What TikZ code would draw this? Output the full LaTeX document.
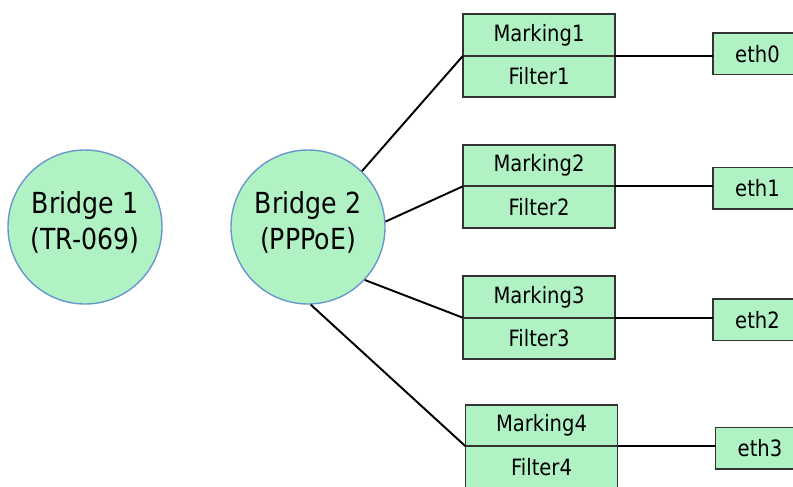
\documentclass[tikz,border=0pt]{standalone}
\usepackage{fontspec}
\setmainfont{DejaVu Sans}[FakeStretch=0.87]
\usetikzlibrary{positioning}
\usetikzlibrary{calc}
\definecolor{mint}{RGB}{176,242,196}
\definecolor{rim}{RGB}{105,150,205}
\tikzset{
    bridge/.style={
    circle,
    fill=mint,
    draw=rim,
    line width=0.8pt,
    minimum size=3.08cm,
    inner sep=0pt
    },
    tag/.style={
    align=center,
    yshift=0.1cm,
    font=\fontsize{16.5}{20.5}\selectfont
    },
    half/.style={
    rectangle,
    fill=mint,
    draw=black!80,
    line width=1.1pt,
    minimum width=3.04cm,
    minimum height=0.83cm,
    inner sep=0pt,
    outer sep=0pt,
    font=\fontsize{12.8}{14}\selectfont
    },
    port/.style={
    half,
    minimum width=1.78cm,
    minimum height=0.83cm,
    anchor=west
    },
    wire/.style={
    line width=1.1pt
    }
}
\begin{document}
\begin{tikzpicture}
\useasboundingbox (0,0) rectangle (15.86,-9.72);

\node [bridge](br1) at (1.7,-4.54) {};
\node [tag](br1t) at (br1) {Bridge 1\\(TR-069)};
\node [bridge](br2) at (6.16,-4.54) {};
\node [tag](br2t) at (br2) {Bridge 2\\(PPPoE)};

\node [half](mark1) at (10.78,-0.70) {Marking1};
\node [half, below=0 of mark1](filt1) {Filter1};
\node [half, below=0.95cm of filt1](mark2) {Marking2};
\node [half, below=0 of mark2](filt2) {Filter2};
\node [half, below=0.97cm of filt2](mark3) {Marking3};
\node [half, below=0 of mark3](filt3) {Filter3};
\node [half, below=0.91cm of filt3, xshift=0.05cm](mark4) {Marking4};
\node [half, below=0 of mark4](filt4) {Filter4};

\node [port](eth0) at ($(mark1.south east)+(1.96,0.04)$) {eth0};
\node [port](eth1) at ($(mark2.south east)+(1.96,-0.04)$) {eth1};
\node [port](eth2) at ($(mark3.south east)+(1.96,-0.04)$) {eth2};
\node [port](eth3) at ($(mark4.south east)+(1.96,-0.04)$) {eth3};

\draw[wire] (br2.46)  -- (mark1.south west);
\draw[wire] (br2.4)   -- (mark2.south west);
\draw[wire] (br2.-43) -- (mark3.south west);
\draw[wire] (br2.-88) -- (mark4.south west);

\draw[wire] (mark1.south east) -- (eth0.west |- mark1.south east);
\draw[wire] (mark2.south east) -- (eth1.west |- mark2.south east);
\draw[wire] (mark3.south east) -- (eth2.west |- mark3.south east);
\draw[wire] (mark4.south east) -- (eth3.west |- mark4.south east);

\end{tikzpicture}
\end{document}
